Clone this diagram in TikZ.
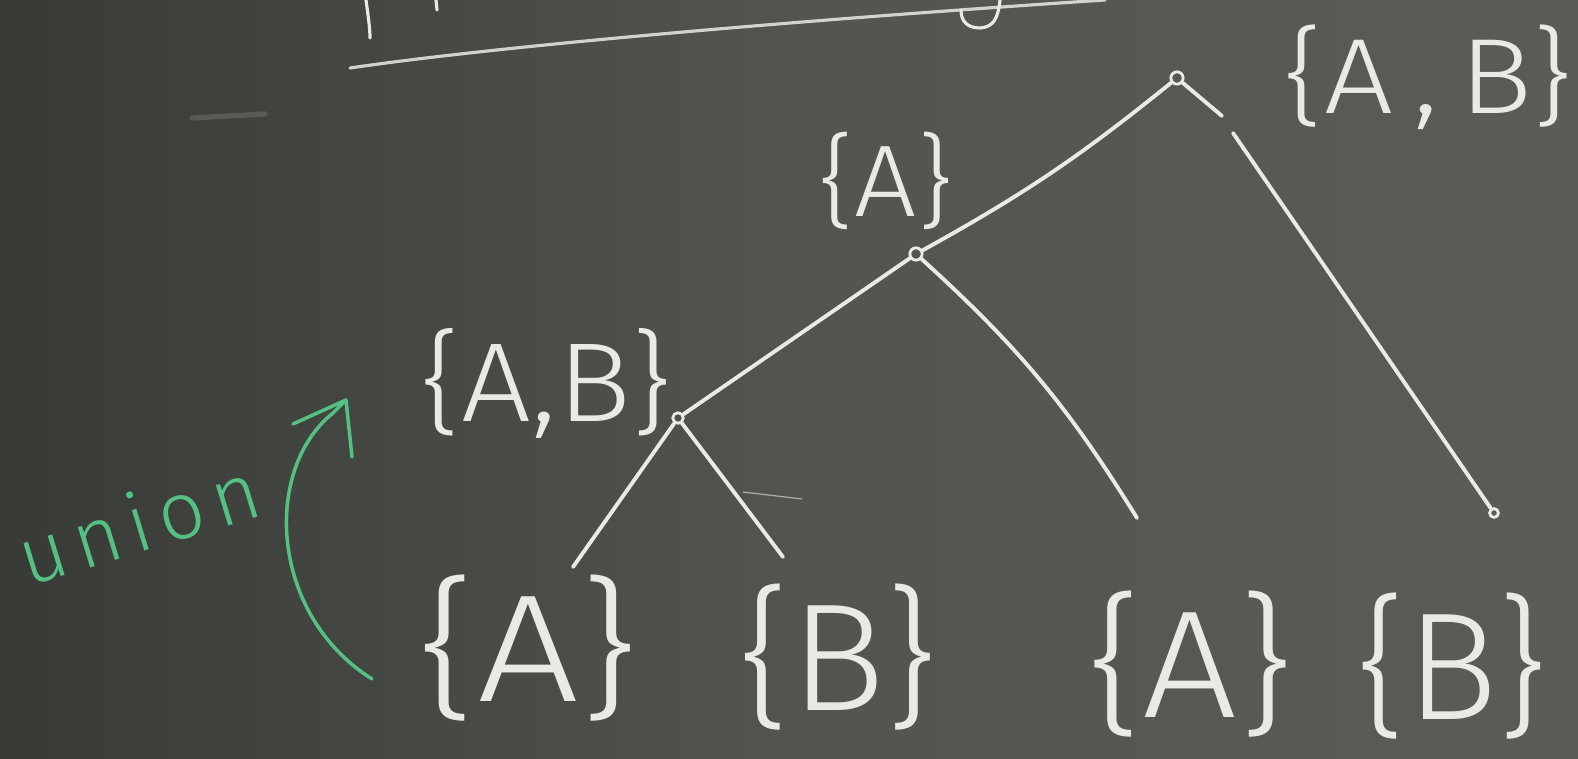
\documentclass[tikz,border=0pt]{standalone}
\usepackage{fontspec}
\setmainfont{Fira Sans Light}
\definecolor{boardL}{RGB}{56,58,54}
\definecolor{boardM}{RGB}{82,84,80}
\definecolor{boardR}{RGB}{90,92,88}
\definecolor{chalk}{RGB}{234,234,228}
\definecolor{gchalk}{RGB}{84,192,132}
\begin{document}
\begin{tikzpicture}[x=0.02cm,y=-0.02cm,
  stroke/.style={draw=chalk, line width=2.2pt, line cap=round, line join=round},
  gstroke/.style={draw=gchalk, line width=2pt, line cap=round, line join=round},
  dot/.style={circle, draw=chalk, line width=1.6pt, inner sep=0pt, minimum size=7pt},
  lbl/.style={text=chalk, inner sep=0pt},
  big/.style={lbl, font=\fontsize{87}{90}\selectfont},
  mid/.style={lbl, font=\fontsize{58}{60}\selectfont}]
% board
\shade[left color=boardL, right color=boardR, middle color=boardM] (0,0) rectangle (1578,759);
\useasboundingbox (0,0) rectangle (1578,759);
% top fragments
\draw[stroke, line width=1.8pt, draw opacity=0.85] (350,68) .. controls (500,46) and (800,20) .. (1105,0);
\draw[stroke, line width=1.8pt] (366,0) .. controls (368,15) and (370,28) .. (370,38);
\draw[stroke, line width=1.8pt] (436,0) -- (437,10);
\draw[stroke, line width=1.8pt] (1000,0) .. controls (998,18) and (994,27) .. (980,28) .. controls (966,28) and (961,20) .. (961,10);
\draw[draw=chalk, line width=3pt, draw opacity=0.15, line cap=round] (192,118) -- (265,114);
% tree nodes
\node[dot] (root) at (1177,78) {};
\node[dot] (midn) at (916,254) {};
\node[dot, minimum size=6pt] (left) at (678,418) {};
\coordinate (l1) at (573,567);
\coordinate (l2) at (783,557);
\coordinate (l3) at (1137,518);
\node[dot, minimum size=5pt] (l4) at (1494,513) {};
\coordinate (gapA) at (1222,116);
\coordinate (gapB) at (1233,133);
% edges
\draw[stroke] (root) to[bend left=5] (midn);
\draw[stroke] (midn) -- (left);
\draw[stroke] (midn) to[bend left=8] (l3);
\draw[stroke] (left) -- (l1);
\draw[stroke] (left) -- (l2);
\draw[stroke] (root) -- (gapA);
\draw[stroke] (gapB) -- (l4);
\coordinate (s1) at (743,492);
\coordinate (s2) at (802,499);
\draw[draw=chalk, line width=0.7pt, draw opacity=0.6] (s1) -- (s2);
% labels
\node[mid, xscale=1.2, yscale=1.05] (lroot) at (1428,77) {\{A\,,\,B\}};
\node[mid, xscale=1.08] (lmid) at (886,181) {\{A\}};
\node[lbl, font=\fontsize{64}{66}\selectfont, xscale=1.1] (lleft) at (546,383) {\{A,B\}};
\node[big, xscale=1.18] (b1) at (528,648) {\{A\}};
\node[big, xscale=1.04] (b2) at (838,657) {\{B\}};
\node[big, xscale=1.1] (b3) at (1190,664) {\{A\}};
\node[big] (b4) at (1452,666) {\{B\}};
% green union arrow
\node[text=gchalk, font=\fontsize{46}{48}\selectfont\addfontfeatures{LetterSpace=12}, rotate=17, inner sep=0pt] (union) at (138,522) {union};
\coordinate (gs) at (372,679);
\coordinate (ge) at (333,413);
\coordinate (gt) at (346,400);
\coordinate (gb1) at (293,424);
\coordinate (gb2) at (352,457);
\draw[gstroke] (gs) .. controls (270,615) and (262,470) .. (ge) -- (gt);
\draw[gstroke] (gb1) -- (gt) -- (gb2);
\end{tikzpicture}
\end{document}
